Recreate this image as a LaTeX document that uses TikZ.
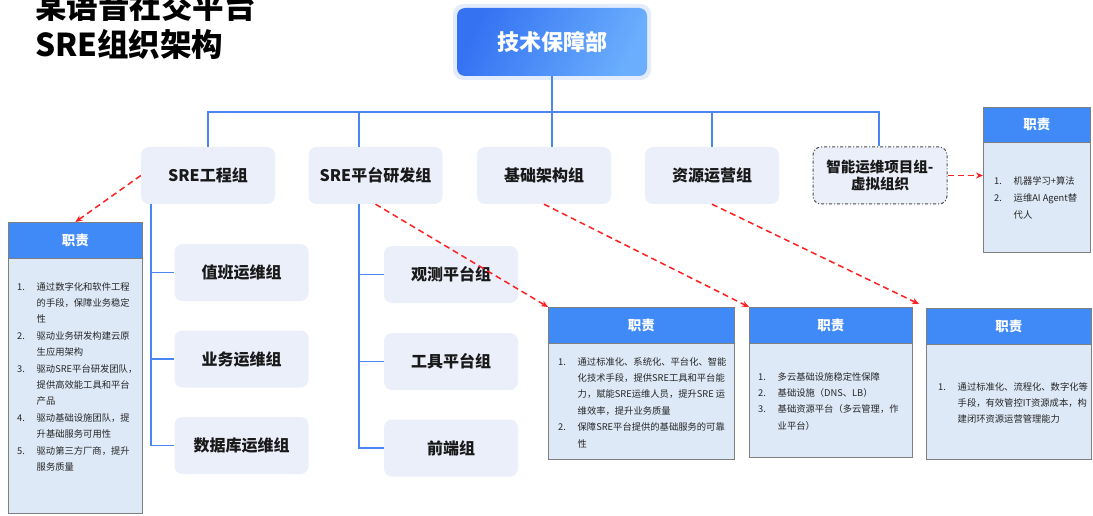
\documentclass[tikz,border=0pt]{standalone}
\usepackage{fontspec}
\setmainfont{Noto Sans CJK SC}
\usetikzlibrary{arrows.meta,calc}
\definecolor{grpfill}{HTML}{EBEFFA}
\definecolor{treeblue}{HTML}{4A86F2}
\definecolor{headblue}{HTML}{3F8AF6}
\definecolor{bodyblue}{HTML}{DDE9F7}
\definecolor{boxgray}{HTML}{7F7F7F}
\definecolor{topA}{HTML}{3472F2}
\definecolor{topB}{HTML}{6AAEFD}
\definecolor{glow}{HTML}{E3ECFC}
\definecolor{arrred}{HTML}{FF1F1F}
\definecolor{txt}{HTML}{262626}
\newcommand{\itnum}[1]{\makebox[19.5pt][l]{#1}}
\newcommand{\itind}{\hspace*{19.5pt}}
\begin{document}
\begin{tikzpicture}[x=1pt,y=-1pt,
  grp/.style={fill=grpfill, rounded corners=8pt, minimum width=134pt, minimum height=57pt, inner sep=0pt, font=\bfseries\fontsize{16}{19}\selectfont, text=black!90},
  tree/.style={draw=treeblue, line width=1.6pt},
  body/.style={draw=boxgray, fill=bodyblue, line width=0.8pt, inner sep=0pt, anchor=north west},
  head/.style={draw=boxgray, fill=headblue, line width=0.8pt, inner sep=0pt, anchor=north west, text=white, font=\bfseries\fontsize{13.5}{16}\selectfont},
  items/.style={anchor=north west, inner sep=0pt, align=left, text=txt, font=\fontsize{9.3}{16.4}\selectfont},
  duty/.style={draw=arrred, line width=1.5pt, dash pattern=on 6pt off 4pt, -{Stealth[length=7pt,width=6pt]}},
]
\useasboundingbox (0,0) rectangle (1093,516);

% title
\node[anchor=west, inner sep=0pt, font=\bfseries\fontsize{31.5}{36}\selectfont] (t1) at (35,6) {某语音社交平台};
\node[anchor=west, inner sep=0pt, font=\bfseries\fontsize{31.5}{36}\selectfont] (t2) at (35,44) {SRE组织架构};

% top node
\fill[glow, rounded corners=10pt] (453,4) rectangle (651,80);
\node[rounded corners=8pt, minimum width=190pt, minimum height=68pt, inner sep=0pt, left color=topA, right color=topB, shading angle=65, text=white, font=\bfseries\fontsize{22}{26}\selectfont] (tech) at (552,42) {技术保障部};

% groups
\node[grp] (g1) at (208,175.5) {SRE工程组};
\node[grp] (g2) at (375.5,175.5) {SRE平台研发组};
\node[grp] (g3) at (544,175.5) {基础架构组};
\node[grp] (g4) at (712,175.5) {资源运营组};
\node[grp, draw=black!70, line width=1pt, dash pattern=on 3pt off 2pt on 1pt off 2pt, align=center, font=\bfseries\fontsize{14.5}{16.5}\selectfont] (g5) at (880,175.5) {智能运维项目组-\\虚拟组织};

\node[grp] (s1) at (241.5,272.5) {值班运维组};
\node[grp] (s2) at (241.5,359) {业务运维组};
\node[grp] (s3) at (241.5,445.5) {数据库运维组};
\node[grp] (p1) at (451,274.5) {观测平台组};
\node[grp] (p2) at (451,361.5) {工具平台组};
\node[grp] (p3) at (451,448) {前端组};

% tree
\coordinate (d1) at (208,112);
\coordinate (d2) at (359,112);
\coordinate (d3) at (552,112);
\coordinate (d4) at (712,112);
\coordinate (d5) at (879,112);
\draw[tree] (tech.south) -- (d3);
\draw[tree] (d1 |- g1.north) -- (d1) -- (d5) -- (d5 |- g5.north);
\draw[tree] (d2) -- (d2 |- g2.north);
\draw[tree] (d3) -- (d3 |- g3.north);
\draw[tree] (d4) -- (d4 |- g4.north);

\coordinate (v1) at (151,204);
\draw[tree] (v1) |- (s3.west);
\draw[tree] (v1 |- s1.west) -- (s1.west);
\draw[tree] (v1 |- s2.west) -- (s2.west);
\coordinate (v2) at (359,204);
\draw[tree] (v2) |- (p3.west);
\draw[tree] (v2 |- p1.west) -- (p1.west);
\draw[tree] (v2 |- p2.west) -- (p2.west);

% duty boxes
\node[body, minimum width=134pt, minimum height=291pt] (bL) at (8,222) {};
\node[head, minimum width=134pt, minimum height=36pt] (hL) at (8,222) {职责};
\node[items] (iL) at (17,282) {\itnum{1.}通过数字化和软件工程\\\itind 的手段，保障业务稳定\\\itind 性\\\itnum{2.}驱动业务研发构建云原\\\itind 生应用架构\\\itnum{3.}驱动SRE平台研发团队，\\\itind 提供高效能工具和平台\\\itind 产品\\\itnum{4.}驱动基础设施团队，提\\\itind 升基础服务可用性\\\itnum{5.}驱动第三方厂商，提升\\\itind 服务质量};

\node[body, minimum width=186pt, minimum height=152pt] (bA) at (548,307) {};
\node[head, minimum width=186pt, minimum height=36pt] (hA) at (548,307) {职责};
\node[items] (iA) at (558,357) {\itnum{1.}通过标准化、系统化、平台化、智能\\\itind 化技术手段，提供SRE工具和平台能\\\itind 力，赋能SRE运维人员，提升SRE 运\\\itind 维效率，提升业务质量\\\itnum{2.}保障SRE平台提供的基础服务的可靠\\\itind 性};

\node[body, minimum width=163pt, minimum height=150pt] (bB) at (749,307) {};
\node[head, minimum width=163pt, minimum height=36pt] (hB) at (749,307) {职责};
\node[items] (iB) at (758,372) {\itnum{1.}多云基础设施稳定性保障\\\itnum{2.}基础设施（DNS、LB）\\\itnum{3.}基础资源平台（多云管理，作\\\itind 业平台）};

\node[body, minimum width=165pt, minimum height=151pt] (bC) at (926,308) {};
\node[head, minimum width=165pt, minimum height=36pt] (hC) at (926,308) {职责};
\node[items] (iC) at (938,382) {\itnum{1.}通过标准化、流程化、数字化等\\\itind 手段，有效管控IT资源成本，构\\\itind 建闭环资源运营管理能力};

\node[body, minimum width=107pt, minimum height=145pt] (bD) at (983,107) {};
\node[head, minimum width=107pt, minimum height=35pt] (hD) at (983,107) {职责};
\node[items, font=\fontsize{9.3}{17}\selectfont] (iD) at (994,176) {\itnum{1.}机器学习+算法\\\itnum{2.}运维AI Agent替\\\itind 代人};

% duty arrows
\coordinate (eC) at (919,304);
\draw[duty] (g1.west) -- (hL.north);
\draw[duty] (g2.south) -- (hA.north west);
\draw[duty] (g3.south) -- (hB.north west);
\draw[duty] (g4.south) -- (eC);
\draw[duty] (g5.east) -- (g5.east -| bD.west);
\end{tikzpicture}
\end{document}
